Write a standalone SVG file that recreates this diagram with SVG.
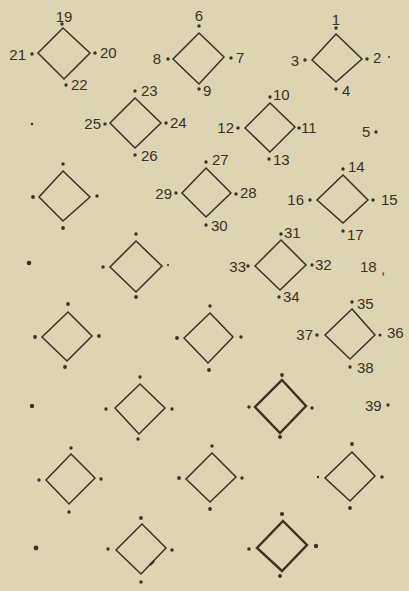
<svg xmlns="http://www.w3.org/2000/svg" width="409" height="591" viewBox="0 0 409 591">
<style>
.d{fill:none;stroke:#3b3124;stroke-width:1.5;stroke-linejoin:miter}
.b{stroke-width:2.4}
.p{fill:#3b3124}
text{font-family:"Liberation Sans",Arial,sans-serif;font-size:15px;fill:#3b3124}
.e{text-anchor:end}
.m{text-anchor:middle}
</style>
<rect width="409" height="591" fill="#ddd4b1"/>
<g id="connectors"></g>
<g id="nA">
<polygon class="d" points="63,28 90,53 64,79 38,53"/>
<circle class="p" cx="62" cy="24" r="1.7"/><circle class="p" cx="32" cy="54" r="1.7"/><circle class="p" cx="95" cy="53" r="1.7"/><circle class="p" cx="66" cy="85" r="1.7"/>
<text class="m" x="64" y="22">19</text><text class="e" x="26" y="60">21</text><text x="100" y="58">20</text><text x="71" y="90">22</text>
</g>
<g id="nB">
<polygon class="d" points="199,33 224,57 199,84 173,59"/>
<circle class="p" cx="199" cy="26" r="1.7"/><circle class="p" cx="168" cy="59" r="1.7"/><circle class="p" cx="231" cy="58" r="1.7"/><circle class="p" cx="199" cy="89" r="1.7"/>
<text class="m" x="199" y="21">6</text><text class="e" x="161" y="64">8</text><text x="236" y="63">7</text><text x="203" y="96">9</text>
</g>
<g id="nC">
<polygon class="d" points="336,34 362,59 336,82 312,60"/>
<circle class="p" cx="336" cy="28" r="1.7"/><circle class="p" cx="305" cy="60" r="1.7"/><circle class="p" cx="367" cy="59" r="1.7"/><circle class="p" cx="336" cy="89" r="1.7"/>
<circle class="p" cx="389" cy="57" r="1"/>
<text class="m" x="336" y="25">1</text><text class="e" x="299" y="66">3</text><text x="373" y="63">2</text><text x="342" y="96">4</text>
</g>
<g id="nD">
<polygon class="d" points="135,98 161,123 135,148 110,123"/>
<circle class="p" cx="135" cy="91" r="1.7"/><circle class="p" cx="105" cy="124" r="1.7"/><circle class="p" cx="166" cy="123" r="1.7"/><circle class="p" cx="135" cy="155" r="1.7"/>
<text x="141" y="96">23</text><text class="e" x="101" y="129">25</text><text x="170" y="128">24</text><text x="141" y="161">26</text>
</g>
<g id="nE">
<polygon class="d" points="270,103 295,127 270,152 245,128"/>
<circle class="p" cx="270" cy="97" r="1.7"/><circle class="p" cx="238" cy="128" r="1.7"/><circle class="p" cx="299" cy="128" r="1.7"/><circle class="p" cx="269" cy="159" r="1.7"/>
<text x="273" y="100">10</text><text class="e" x="234" y="133">12</text><text x="301" y="133">11</text><text x="273" y="165">13</text>
</g>
<g id="n5"><text x="362" y="137">5</text><circle class="p" cx="376" cy="132" r="1.7"/></g>
<g id="s1"><circle class="p" cx="32" cy="124" r="1.3"/></g>
<g id="nF">
<polygon class="d" points="63,171 90,197 63,221 39,197"/>
<circle class="p" cx="63" cy="164" r="1.7"/><circle class="p" cx="33" cy="197" r="1.9"/><circle class="p" cx="97" cy="196" r="1.7"/><circle class="p" cx="63" cy="228" r="1.9"/>
</g>
<g id="nG">
<polygon class="d" points="206,168 231,193 206,217 182,193"/>
<circle class="p" cx="206" cy="162" r="1.7"/><circle class="p" cx="176" cy="193" r="1.7"/><circle class="p" cx="236" cy="194" r="1.7"/><circle class="p" cx="206" cy="225" r="1.7"/>
<text x="212" y="165">27</text><text class="e" x="172" y="199">29</text><text x="240" y="198">28</text><text x="211" y="231">30</text>
</g>
<g id="nH">
<polygon class="d" points="343,175 368,200 343,223 317,200"/>
<circle class="p" cx="343" cy="169" r="1.7"/><circle class="p" cx="310" cy="200" r="1.7"/><circle class="p" cx="373" cy="200" r="1.7"/><circle class="p" cx="343" cy="231" r="1.7"/>
<text x="348" y="172">14</text><text class="e" x="304" y="205">16</text><text x="381" y="205">15</text><text x="347" y="240">17</text>
</g>
<g id="nI">
<polygon class="d" points="136,241 162,266 136,292 110,267"/>
<circle class="p" cx="136" cy="234" r="1.7"/><circle class="p" cx="103" cy="267" r="1.7"/><circle class="p" cx="168" cy="265" r="1.1"/><circle class="p" cx="136" cy="297" r="1.9"/>
</g>
<g id="s2"><circle class="p" cx="29" cy="263" r="2.3"/></g>
<g id="nJ">
<polygon class="d" points="281,240 306,265 280,290 255,266"/>
<circle class="p" cx="281" cy="234" r="1.7"/><circle class="p" cx="248" cy="266" r="1.7"/><circle class="p" cx="312" cy="265" r="1.7"/><circle class="p" cx="279" cy="297" r="1.7"/>
<text x="284" y="238">31</text><text class="e" x="246" y="272">33</text><text x="315" y="270">32</text><text x="283" y="302">34</text>
</g>
<g id="n18"><text x="360" y="272">18</text><text x="381" y="274">,</text></g>
<g id="nK">
<polygon class="d" points="68,312 92,336 67,361 42,337"/>
<circle class="p" cx="68" cy="304" r="1.9"/><circle class="p" cx="35" cy="337" r="1.9"/><circle class="p" cx="99" cy="336" r="1.9"/><circle class="p" cx="65" cy="367" r="1.9"/>
</g>
<g id="nL">
<polygon class="d" points="210,313 233,337 208,363 184,338"/>
<circle class="p" cx="210" cy="306" r="1.7"/><circle class="p" cx="177" cy="338" r="1.9"/><circle class="p" cx="241" cy="337" r="1.7"/><circle class="p" cx="209" cy="370" r="1.9"/>
</g>
<g id="nM">
<polygon class="d" points="352,309 375,335 350,359 325,335"/>
<circle class="p" cx="352" cy="302" r="1.7"/><circle class="p" cx="317" cy="335" r="1.7"/><circle class="p" cx="380" cy="335" r="1.5"/><circle class="p" cx="350" cy="367" r="1.7"/>
<text x="357" y="309">35</text><text class="e" x="313" y="340">37</text><text x="387" y="338">36</text><text x="357" y="373">38</text>
</g>
<g id="nN">
<polygon class="d" points="140,384 165,408 139,434 115,408"/>
<circle class="p" cx="140" cy="377" r="1.7"/><circle class="p" cx="106" cy="409" r="1.7"/><circle class="p" cx="172" cy="409" r="1.7"/><circle class="p" cx="138" cy="439" r="1.7"/>
</g>
<g id="s3"><circle class="p" cx="32" cy="406" r="2.2"/></g>
<g id="nO">
<polygon class="d b" points="282,380 306,406 280,433 255,407"/>
<circle class="p" cx="282" cy="375" r="1.9"/><circle class="p" cx="249" cy="407" r="1.7"/><circle class="p" cx="312" cy="408" r="1.7"/><circle class="p" cx="280" cy="437" r="2"/>
</g>
<g id="n39"><text x="365" y="411">39</text><circle class="p" cx="388" cy="405" r="1.7"/></g>
<g id="nP">
<polygon class="d" points="71,454 95,478 69,504 46,480"/>
<circle class="p" cx="71" cy="448" r="1.7"/><circle class="p" cx="39" cy="480" r="1.7"/><circle class="p" cx="101" cy="479" r="1.7"/><circle class="p" cx="69" cy="512" r="1.7"/>
</g>
<g id="nQ">
<polygon class="d" points="212,453 236,477 210,502 186,479"/>
<circle class="p" cx="212" cy="446" r="1.7"/><circle class="p" cx="179" cy="478" r="1.9"/><circle class="p" cx="242" cy="478" r="1.7"/><circle class="p" cx="210" cy="509" r="1.9"/>
</g>
<g id="nR">
<polygon class="d" points="352,452 375,476 350,501 325,478"/>
<circle class="p" cx="352" cy="444" r="1.9"/><circle class="p" cx="318" cy="477" r="1.2"/><circle class="p" cx="382" cy="477" r="1.8"/><circle class="p" cx="350" cy="508" r="1.9"/>
</g>
<g id="nS">
<polygon class="d" points="142,524 166,548 141,574 116,550"/>
<circle class="p" cx="141" cy="518" r="1.9"/><circle class="p" cx="108" cy="549" r="1.7"/><circle class="p" cx="172" cy="550" r="1.8"/><circle class="p" cx="141" cy="582" r="1.7"/>
<line class="d b" x1="150" y1="565" x2="154" y2="561"/>
</g>
<g id="s4"><circle class="p" cx="36" cy="548" r="2.4"/></g>
<g id="nT">
<polygon class="d b" points="283,521 307,545 282,571 257,548"/>
<circle class="p" cx="282" cy="514" r="2.1"/><circle class="p" cx="249" cy="549" r="1.8"/><circle class="p" cx="316" cy="546" r="2.2"/><circle class="p" cx="280" cy="576" r="2"/>
</g>
</svg>
